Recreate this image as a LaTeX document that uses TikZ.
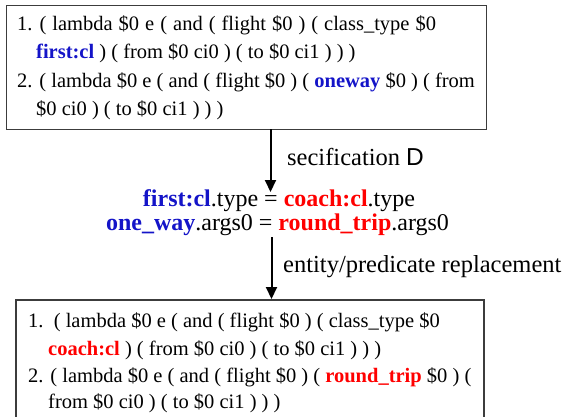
\documentclass[tikz,border=0pt]{standalone}
\usepackage{fontspec}
\setmainfont{Liberation Serif}
\newfontfamily\sansD{Liberation Sans}
\usetikzlibrary{arrows.meta}
\definecolor{bl}{RGB}{20,20,200}
\definecolor{rd}{RGB}{255,0,0}
\definecolor{bord}{RGB}{60,60,60}
\begin{document}
\begin{tikzpicture}[x=1pt,y=-1pt,
  txt/.style={anchor=base west,inner sep=0pt,font=\fontsize{20.5}{24}\selectfont},
  mid/.style={anchor=base west,inner sep=0pt,font=\fontsize{24.5}{28}\selectfont},
  eqn/.style={anchor=base,inner sep=0pt,font=\fontsize{24}{28}\selectfont},
  boxline/.style={draw=bord,line width=1.2pt},
  arr/.style={line width=2pt,-{Triangle[length=12pt,width=11pt]}}]
\useasboundingbox (0,0) rectangle (570,416);
% top box
\node[boxline,minimum width=480pt,minimum height=124pt,anchor=north west,inner sep=0pt] (top) at (6,5) {};
\node[txt] (t1) at (17,30) {\spaceskip=6pt 1.\hspace{7pt}( lambda \$0 e ( and ( flight \$0 ) ( class\_type \$0};
\node[txt] (t2) at (36,58) {\textcolor{bl}{\textbf{first:cl}} ) ( from \$0 ci0 ) ( to \$0 ci1 ) ) )};
\node[txt] (t3) at (17,87) {2. ( lambda \$0 e ( and ( flight \$0 ) ( \textcolor{bl}{\textbf{oneway}} \$0 ) ( from};
\node[txt] (t4) at (36,115) {\$0 ci0 ) ( to \$0 ci1 ) ) )};
% middle
\coordinate (a1s) at (270.5,129);
\coordinate (a1e) at (270.5,192);
\draw[arr] (a1s) -- (a1e);
\node[mid] (l1) at (287,165) {secification {\sansD D}};
\node[eqn] (m1) at (279,206) {\textcolor{bl}{\textbf{first:cl}}.type = \textcolor{rd}{\textbf{coach:cl}}.type};
\node[eqn] (m2) at (277.5,230) {\textcolor{bl}{\textbf{one\_way}}.args0 = \textcolor{rd}{\textbf{round\_trip}}.args0};
\coordinate (a2s) at (271.5,237);
\coordinate (a2e) at (271.5,299);
\draw[arr] (a2s) -- (a2e);
\node[mid] (l2) at (283,272) {entity/predicate replacement};
% bottom box
\coordinate (b1) at (16,420);
\coordinate (b2) at (16,300);
\coordinate (b3) at (484,300);
\coordinate (b4) at (484,420);
\draw[boxline] (b1) -- (b2) -- (b3) -- (b4);
\node[txt] (u1) at (28,327) {1.~~( lambda \$0 e ( and ( flight \$0 ) ( class\_type \$0};
\node[txt] (u2) at (48,355) {\textcolor{rd}{\textbf{coach:cl}} ) ( from \$0 ci0 ) ( to \$0 ci1 ) ) )};
\node[txt] (u3) at (28,382) {2. ( lambda \$0 e ( and ( flight \$0 ) ( \textcolor{rd}{\textbf{round\_trip}} \$0 ) (};
\node[txt] (u4) at (48,408) {from \$0 ci0 ) ( to \$0 ci1 ) ) )};
\end{tikzpicture}
\end{document}
